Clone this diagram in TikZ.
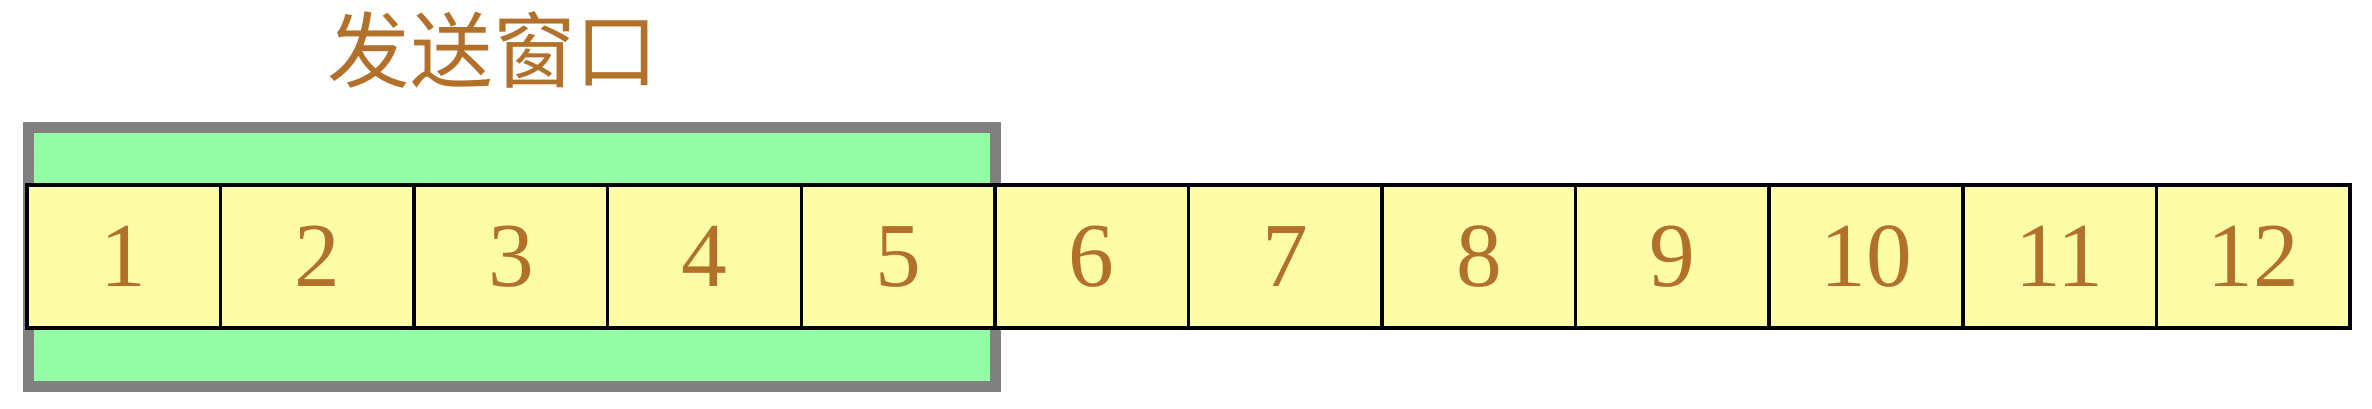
\documentclass[tikz,border=0pt]{standalone}
\usepackage{fontspec}
\setmainfont{Liberation Serif}
\newfontfamily\cjk{Noto Sans CJK SC}
\definecolor{txtbrown}{HTML}{B2712A}
\definecolor{winfill}{HTML}{94FCA4}
\definecolor{wingray}{HTML}{808080}
\definecolor{cellfill}{HTML}{FDFDA8}
\begin{document}
\begin{tikzpicture}[x=0.01cm,y=-0.01cm,
  cellbox/.style={draw=black,line width=0.035cm,fill=cellfill,minimum width=1.936cm,minimum height=1.43cm,inner sep=0pt,outer sep=0pt,text=txtbrown,font=\fontsize{26}{28}\selectfont},
  winbox/.style={draw=wingray,line width=0.11cm,fill=winfill,minimum width=9.67cm,minimum height=2.59cm,inner sep=0pt,outer sep=0pt},
  titletext/.style={text=txtbrown,font=\cjk\fontsize{23.5}{26}\selectfont,inner sep=0pt}]
\useasboundingbox (0,0) rectangle (2372,408);
\node[winbox] (win) at (512,257) {};
\node[titletext] (title) at (493,50) {发送窗口};
\foreach \i in {1,...,12}{
  \node[cellbox] (c\i) at ({27+193.58*(\i-0.5)},256.5) {\i};
}
\end{tikzpicture}
\end{document}
